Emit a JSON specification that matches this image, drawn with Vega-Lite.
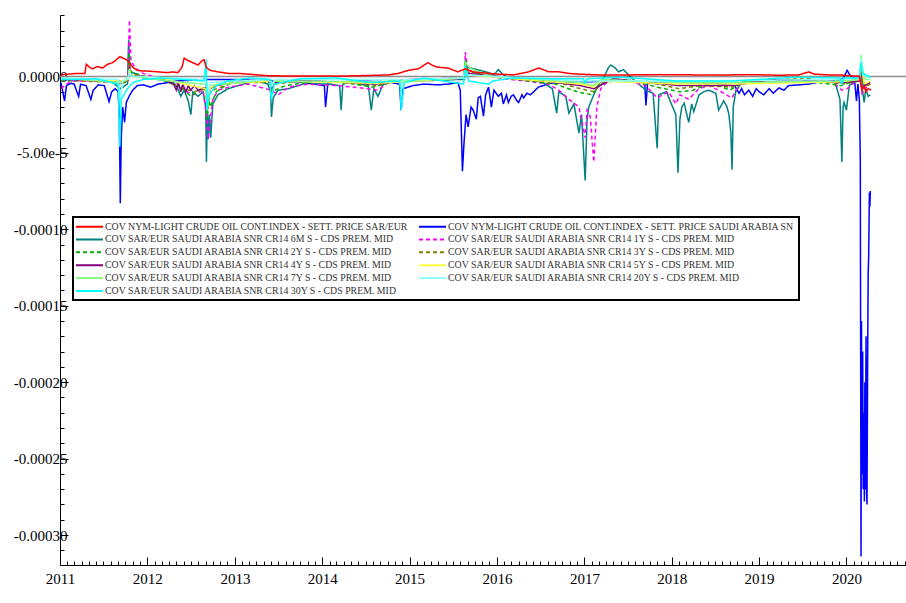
{
"$schema":"https://vega.github.io/schema/vega-lite/v6.json",
"autosize":"none",
"padding":{"left":60,"top":15,"right":0,"bottom":38},
"width":846,"height":550,
"background":"white",
"config":{"view":{"stroke":null},"axis":{"grid":false,"domainColor":"#000","tickColor":"#000","labelColor":"#000","labelFont":"Liberation Serif","labelFontSize":15,"title":null},"legend":{"strokeWidth":2}},
"layer":[
{"data":{"values":[{}]},"mark":{"type":"rule","color":"#8c8c8c","strokeWidth":1.5},"encoding":{"y":{"datum":0,"type":"quantitative"}}},
{"data":{"values":[
{"s":"b","d":"2011-01-05","v":-0.4e-5},{"s":"b","d":"2011-01-20","v":-1.6e-5},{"s":"b","d":"2011-01-28","v":-0.6e-5},{"s":"b","d":"2011-02-15","v":-0.45e-5},{"s":"b","d":"2011-03-01","v":-0.5e-5},{"s":"b","d":"2011-03-20","v":-1.3e-5},{"s":"b","d":"2011-03-28","v":-0.5e-5},{"s":"b","d":"2011-04-20","v":-0.6e-5},{"s":"b","d":"2011-05-10","v":-1.5e-5},{"s":"b","d":"2011-05-20","v":-0.9e-5},{"s":"b","d":"2011-06-10","v":-0.55e-5},{"s":"b","d":"2011-07-05","v":-0.6e-5},{"s":"b","d":"2011-07-25","v":-1.65e-5},{"s":"b","d":"2011-08-05","v":-1.0e-5},{"s":"b","d":"2011-08-20","v":-0.8e-5},{"s":"b","d":"2011-09-01","v":-1.0e-5},{"s":"b","d":"2011-09-06","v":-2.7e-5},{"s":"b","d":"2011-09-10","v":-8.3e-5},{"s":"b","d":"2011-09-14","v":-4.0e-5},{"s":"b","d":"2011-09-20","v":-2.0e-5},{"s":"b","d":"2011-09-28","v":-3.0e-5},{"s":"b","d":"2011-10-05","v":-1.7e-5},{"s":"b","d":"2011-10-20","v":-1.2e-5},{"s":"b","d":"2011-11-01","v":-0.9e-5},{"s":"b","d":"2011-11-20","v":-0.6e-5},{"s":"b","d":"2011-12-15","v":-0.55e-5},{"s":"b","d":"2012-01-15","v":-0.7e-5},{"s":"b","d":"2012-02-15","v":-0.5e-5},{"s":"b","d":"2012-03-27","v":-0.4e-5},{"s":"b","d":"2012-05-01","v":-0.3e-5},{"s":"b","d":"2012-07-01","v":-0.25e-5},{"s":"b","d":"2012-09-01","v":-0.2e-5},{"s":"b","d":"2013-01-01","v":-0.2e-5},{"s":"b","d":"2013-06-01","v":-0.3e-5},{"s":"b","d":"2013-09-22","v":-0.35e-5},{"s":"b","d":"2014-01-10","v":-0.6e-5},{"s":"b","d":"2014-01-15","v":-2.0e-5},{"s":"b","d":"2014-01-25","v":-0.4e-5},{"s":"b","d":"2014-06-01","v":-0.3e-5},{"s":"b","d":"2014-10-01","v":-0.35e-5},{"s":"b","d":"2014-11-20","v":-0.5e-5},{"s":"b","d":"2014-11-27","v":-2.2e-5},{"s":"b","d":"2014-12-05","v":-0.8e-5},{"s":"b","d":"2015-01-15","v":-0.6e-5},{"s":"b","d":"2015-03-01","v":-0.5e-5},{"s":"b","d":"2015-05-01","v":-0.55e-5},{"s":"b","d":"2015-06-12","v":-0.5e-5},{"s":"b","d":"2015-07-22","v":-0.4e-5},{"s":"b","d":"2015-08-01","v":-0.9e-5},{"s":"b","d":"2015-08-10","v":-6.2e-5},{"s":"b","d":"2015-08-16","v":-4.5e-5},{"s":"b","d":"2015-08-25","v":-2.5e-5},{"s":"b","d":"2015-09-03","v":-3.3e-5},{"s":"b","d":"2015-09-15","v":-2.0e-5},{"s":"b","d":"2015-09-24","v":-2.2e-5},{"s":"b","d":"2015-10-07","v":-2.8e-5},{"s":"b","d":"2015-10-15","v":-1.4e-5},{"s":"b","d":"2015-10-24","v":-1.3e-5},{"s":"b","d":"2015-11-06","v":-2.6e-5},{"s":"b","d":"2015-11-15","v":-1.2e-5},{"s":"b","d":"2015-11-27","v":-0.7e-5},{"s":"b","d":"2015-12-09","v":-2.0e-5},{"s":"b","d":"2015-12-20","v":-0.9e-5},{"s":"b","d":"2016-01-07","v":-1.3e-5},{"s":"b","d":"2016-01-20","v":-1.1e-5},{"s":"b","d":"2016-01-28","v":-1.8e-5},{"s":"b","d":"2016-02-10","v":-1.2e-5},{"s":"b","d":"2016-02-18","v":-1.7e-5},{"s":"b","d":"2016-03-01","v":-1.3e-5},{"s":"b","d":"2016-03-10","v":-1.2e-5},{"s":"b","d":"2016-03-25","v":-1.6e-5},{"s":"b","d":"2016-04-01","v":-1.7e-5},{"s":"b","d":"2016-04-15","v":-1.2e-5},{"s":"b","d":"2016-04-22","v":-1.4e-5},{"s":"b","d":"2016-05-05","v":-1.1e-5},{"s":"b","d":"2016-05-20","v":-1.2e-5},{"s":"b","d":"2016-06-03","v":-1.0e-5},{"s":"b","d":"2016-06-22","v":-0.7e-5},{"s":"b","d":"2016-07-13","v":-0.6e-5},{"s":"b","d":"2016-08-04","v":-0.45e-5},{"s":"b","d":"2016-10-01","v":-0.4e-5},{"s":"b","d":"2017-01-01","v":-0.35e-5},{"s":"b","d":"2017-06-01","v":-0.3e-5},{"s":"b","d":"2017-09-10","v":-0.4e-5},{"s":"b","d":"2017-09-15","v":-1.9e-5},{"s":"b","d":"2017-09-22","v":-0.4e-5},{"s":"b","d":"2017-11-01","v":-0.35e-5},{"s":"b","d":"2018-03-01","v":-0.4e-5},{"s":"b","d":"2018-07-01","v":-0.45e-5},{"s":"b","d":"2018-09-20","v":-0.6e-5},{"s":"b","d":"2018-10-09","v":-1.1e-5},{"s":"b","d":"2018-10-20","v":-0.8e-5},{"s":"b","d":"2018-11-01","v":-1.2e-5},{"s":"b","d":"2018-11-19","v":-0.9e-5},{"s":"b","d":"2018-12-05","v":-1.3e-5},{"s":"b","d":"2018-12-20","v":-0.8e-5},{"s":"b","d":"2019-01-01","v":-1.0e-5},{"s":"b","d":"2019-01-20","v":-1.2e-5},{"s":"b","d":"2019-02-12","v":-0.8e-5},{"s":"b","d":"2019-03-01","v":-1.1e-5},{"s":"b","d":"2019-03-25","v":-0.75e-5},{"s":"b","d":"2019-04-15","v":-0.9e-5},{"s":"b","d":"2019-05-04","v":-0.6e-5},{"s":"b","d":"2019-06-16","v":-0.55e-5},{"s":"b","d":"2019-07-28","v":-0.5e-5},{"s":"b","d":"2019-09-09","v":-0.36e-5},{"s":"b","d":"2019-10-19","v":-0.3e-5},{"s":"b","d":"2019-12-01","v":-0.25e-5},{"s":"b","d":"2019-12-20","v":-0.1e-5},{"s":"b","d":"2020-01-04","v":0.4e-5},{"s":"b","d":"2020-01-15","v":0.1e-5},{"s":"b","d":"2020-02-03","v":-0.1e-5},{"s":"b","d":"2020-02-12","v":-1.6e-5},{"s":"b","d":"2020-02-18","v":-0.5e-5},{"s":"b","d":"2020-02-24","v":-1.5e-5},{"s":"b","d":"2020-02-28","v":-5.5e-5},{"s":"b","d":"2020-03-02","v":-31.4e-5},{"s":"b","d":"2020-03-04","v":-16.0e-5},{"s":"b","d":"2020-03-06","v":-26.0e-5},{"s":"b","d":"2020-03-09","v":-18.0e-5},{"s":"b","d":"2020-03-11","v":-27.0e-5},{"s":"b","d":"2020-03-13","v":-22.0e-5},{"s":"b","d":"2020-03-16","v":-27.8e-5},{"s":"b","d":"2020-03-18","v":-20.0e-5},{"s":"b","d":"2020-03-20","v":-27.0e-5},{"s":"b","d":"2020-03-23","v":-17.0e-5},{"s":"b","d":"2020-03-25","v":-27.2e-5},{"s":"b","d":"2020-03-27","v":-28.0e-5},{"s":"b","d":"2020-03-30","v":-17.7e-5},{"s":"b","d":"2020-04-01","v":-12.8e-5},{"s":"b","d":"2020-04-03","v":-11.8e-5},{"s":"b","d":"2020-04-06","v":-7.6e-5},{"s":"b","d":"2020-04-08","v":-8.5e-5},{"s":"b","d":"2020-04-10","v":-7.5e-5},
{"s":"t","d":"2011-01-05","v":-0.2e-5},{"s":"t","d":"2011-04-01","v":-0.2e-5},{"s":"t","d":"2011-08-01","v":-0.3e-5},{"s":"t","d":"2011-09-10","v":-0.8e-5},{"s":"t","d":"2011-10-10","v":-0.5e-5},{"s":"t","d":"2011-10-15","v":2.4e-5},{"s":"t","d":"2011-10-20","v":0.3e-5},{"s":"t","d":"2011-11-10","v":0.2e-5},{"s":"t","d":"2011-12-15","v":-0.1e-5},{"s":"t","d":"2012-02-15","v":-0.2e-5},{"s":"t","d":"2012-04-16","v":-0.3e-5},{"s":"t","d":"2012-05-07","v":-0.8e-5},{"s":"t","d":"2012-05-20","v":-1.3e-5},{"s":"t","d":"2012-06-03","v":-0.9e-5},{"s":"t","d":"2012-06-20","v":-1.6e-5},{"s":"t","d":"2012-07-01","v":-2.5e-5},{"s":"t","d":"2012-07-09","v":-1.0e-5},{"s":"t","d":"2012-07-31","v":-1.3e-5},{"s":"t","d":"2012-08-21","v":-1.0e-5},{"s":"t","d":"2012-09-01","v":-2.0e-5},{"s":"t","d":"2012-09-04","v":-5.6e-5},{"s":"t","d":"2012-09-08","v":-2.5e-5},{"s":"t","d":"2012-09-12","v":-4.1e-5},{"s":"t","d":"2012-09-16","v":-2.5e-5},{"s":"t","d":"2012-09-22","v":-4.0e-5},{"s":"t","d":"2012-10-01","v":-1.8e-5},{"s":"t","d":"2012-10-22","v":-1.2e-5},{"s":"t","d":"2012-12-04","v":-0.8e-5},{"s":"t","d":"2013-01-15","v":-0.6e-5},{"s":"t","d":"2013-02-27","v":-0.4e-5},{"s":"t","d":"2013-04-07","v":-0.3e-5},{"s":"t","d":"2013-05-19","v":-0.5e-5},{"s":"t","d":"2013-05-30","v":-1.0e-5},{"s":"t","d":"2013-06-03","v":-2.65e-5},{"s":"t","d":"2013-06-10","v":-1.4e-5},{"s":"t","d":"2013-07-01","v":-0.9e-5},{"s":"t","d":"2013-08-13","v":-0.8e-5},{"s":"t","d":"2013-09-22","v":-0.6e-5},{"s":"t","d":"2013-11-04","v":-0.4e-5},{"s":"t","d":"2013-12-16","v":-0.5e-5},{"s":"t","d":"2014-01-27","v":-0.5e-5},{"s":"t","d":"2014-03-15","v":-0.6e-5},{"s":"t","d":"2014-03-21","v":-2.2e-5},{"s":"t","d":"2014-03-28","v":-0.5e-5},{"s":"t","d":"2014-05-01","v":-0.4e-5},{"s":"t","d":"2014-07-13","v":-0.6e-5},{"s":"t","d":"2014-07-25","v":-2.2e-5},{"s":"t","d":"2014-08-05","v":-0.8e-5},{"s":"t","d":"2014-08-22","v":-1.3e-5},{"s":"t","d":"2014-09-10","v":-0.6e-5},{"s":"t","d":"2014-10-04","v":-0.3e-5},{"s":"t","d":"2015-01-01","v":-0.3e-5},{"s":"t","d":"2015-05-01","v":-0.25e-5},{"s":"t","d":"2015-07-22","v":-0.2e-5},{"s":"t","d":"2015-08-18","v":-0.2e-5},{"s":"t","d":"2015-08-22","v":0.9e-5},{"s":"t","d":"2015-09-03","v":0.6e-5},{"s":"t","d":"2015-09-24","v":0.5e-5},{"s":"t","d":"2015-10-24","v":0.4e-5},{"s":"t","d":"2015-11-27","v":0.25e-5},{"s":"t","d":"2015-12-20","v":0.1e-5},{"s":"t","d":"2016-01-07","v":0.45e-5},{"s":"t","d":"2016-01-28","v":0.1e-5},{"s":"t","d":"2016-02-18","v":-0.05e-5},{"s":"t","d":"2016-05-01","v":-0.2e-5},{"s":"t","d":"2016-07-01","v":-0.3e-5},{"s":"t","d":"2016-08-20","v":-0.8e-5},{"s":"t","d":"2016-09-07","v":-2.4e-5},{"s":"t","d":"2016-09-16","v":-1.0e-5},{"s":"t","d":"2016-10-15","v":-1.3e-5},{"s":"t","d":"2016-10-28","v":-2.4e-5},{"s":"t","d":"2016-11-18","v":-1.8e-5},{"s":"t","d":"2016-12-09","v":-3.7e-5},{"s":"t","d":"2016-12-20","v":-2.5e-5},{"s":"t","d":"2017-01-04","v":-6.8e-5},{"s":"t","d":"2017-01-12","v":-2.8e-5},{"s":"t","d":"2017-01-19","v":-2.0e-5},{"s":"t","d":"2017-02-09","v":-1.2e-5},{"s":"t","d":"2017-03-01","v":-0.5e-5},{"s":"t","d":"2017-03-22","v":-0.1e-5},{"s":"t","d":"2017-04-12","v":0.6e-5},{"s":"t","d":"2017-04-21","v":0.75e-5},{"s":"t","d":"2017-05-10","v":0.55e-5},{"s":"t","d":"2017-05-24","v":0.3e-5},{"s":"t","d":"2017-06-13","v":0.45e-5},{"s":"t","d":"2017-07-04","v":0.1e-5},{"s":"t","d":"2017-08-01","v":-0.3e-5},{"s":"t","d":"2017-09-15","v":-0.9e-5},{"s":"t","d":"2017-10-15","v":-1.1e-5},{"s":"t","d":"2017-11-01","v":-4.7e-5},{"s":"t","d":"2017-11-08","v":-1.2e-5},{"s":"t","d":"2017-12-10","v":-1.0e-5},{"s":"t","d":"2017-12-25","v":-1.6e-5},{"s":"t","d":"2018-01-18","v":-2.5e-5},{"s":"t","d":"2018-01-27","v":-6.3e-5},{"s":"t","d":"2018-02-04","v":-2.8e-5},{"s":"t","d":"2018-02-12","v":-2.0e-5},{"s":"t","d":"2018-02-22","v":-1.75e-5},{"s":"t","d":"2018-03-05","v":-2.5e-5},{"s":"t","d":"2018-03-13","v":-3.0e-5},{"s":"t","d":"2018-03-25","v":-1.8e-5},{"s":"t","d":"2018-04-03","v":-2.3e-5},{"s":"t","d":"2018-04-25","v":-1.2e-5},{"s":"t","d":"2018-05-15","v":-1.0e-5},{"s":"t","d":"2018-06-04","v":-0.9e-5},{"s":"t","d":"2018-07-04","v":-1.1e-5},{"s":"t","d":"2018-07-16","v":-2.2e-5},{"s":"t","d":"2018-08-06","v":-1.6e-5},{"s":"t","d":"2018-08-20","v":-2.0e-5},{"s":"t","d":"2018-08-28","v":-2.5e-5},{"s":"t","d":"2018-09-05","v":-3.7e-5},{"s":"t","d":"2018-09-10","v":-6.1e-5},{"s":"t","d":"2018-09-15","v":-2.0e-5},{"s":"t","d":"2018-09-25","v":-1.0e-5},{"s":"t","d":"2018-10-20","v":-0.4e-5},{"s":"t","d":"2019-01-01","v":-0.3e-5},{"s":"t","d":"2019-05-01","v":-0.25e-5},{"s":"t","d":"2019-09-01","v":-0.3e-5},{"s":"t","d":"2019-11-15","v":-0.4e-5},{"s":"t","d":"2019-12-05","v":-1.5e-5},{"s":"t","d":"2019-12-13","v":-5.6e-5},{"s":"t","d":"2019-12-18","v":-2.0e-5},{"s":"t","d":"2019-12-22","v":-1.7e-5},{"s":"t","d":"2020-01-01","v":-2.2e-5},{"s":"t","d":"2020-01-13","v":-0.6e-5},{"s":"t","d":"2020-02-03","v":-0.3e-5},{"s":"t","d":"2020-02-24","v":-0.2e-5},{"s":"t","d":"2020-03-02","v":0.8e-5},{"s":"t","d":"2020-03-09","v":-1.0e-5},{"s":"t","d":"2020-03-15","v":-1.7e-5},{"s":"t","d":"2020-03-22","v":-0.8e-5},{"s":"t","d":"2020-04-01","v":-1.3e-5},{"s":"t","d":"2020-04-10","v":-1.2e-5},
{"s":"m","d":"2011-01-05","v":-0.8e-5},{"s":"m","d":"2011-02-15","v":-0.3e-5},{"s":"m","d":"2011-05-01","v":-0.3e-5},{"s":"m","d":"2011-08-01","v":-0.35e-5},{"s":"m","d":"2011-09-10","v":-0.5e-5},{"s":"m","d":"2011-10-12","v":-0.3e-5},{"s":"m","d":"2011-10-18","v":3.7e-5},{"s":"m","d":"2011-10-25","v":1.0e-5},{"s":"m","d":"2011-11-15","v":0.5e-5},{"s":"m","d":"2011-12-15","v":0.2e-5},{"s":"m","d":"2012-02-15","v":-0.1e-5},{"s":"m","d":"2012-05-01","v":-0.4e-5},{"s":"m","d":"2012-06-03","v":-0.9e-5},{"s":"m","d":"2012-07-09","v":-1.2e-5},{"s":"m","d":"2012-08-21","v":-0.9e-5},{"s":"m","d":"2012-09-04","v":-2.5e-5},{"s":"m","d":"2012-09-12","v":-4.1e-5},{"s":"m","d":"2012-09-19","v":-3.0e-5},{"s":"m","d":"2012-10-01","v":-1.5e-5},{"s":"m","d":"2012-10-22","v":-0.9e-5},{"s":"m","d":"2012-12-04","v":-0.7e-5},{"s":"m","d":"2013-02-27","v":-0.5e-5},{"s":"m","d":"2013-06-01","v":-0.9e-5},{"s":"m","d":"2013-07-01","v":-1.2e-5},{"s":"m","d":"2013-08-13","v":-0.7e-5},{"s":"m","d":"2013-11-04","v":-0.5e-5},{"s":"m","d":"2014-03-07","v":-0.6e-5},{"s":"m","d":"2014-07-13","v":-0.8e-5},{"s":"m","d":"2014-08-22","v":-0.9e-5},{"s":"m","d":"2014-10-04","v":-0.4e-5},{"s":"m","d":"2015-02-01","v":-0.2e-5},{"s":"m","d":"2015-07-22","v":-0.15e-5},{"s":"m","d":"2015-08-18","v":-0.1e-5},{"s":"m","d":"2015-08-22","v":1.6e-5},{"s":"m","d":"2015-09-01","v":0.5e-5},{"s":"m","d":"2015-10-01","v":0.2e-5},{"s":"m","d":"2015-12-01","v":0.02e-5},{"s":"m","d":"2016-02-01","v":-0.15e-5},{"s":"m","d":"2016-05-01","v":-0.3e-5},{"s":"m","d":"2016-08-04","v":-0.5e-5},{"s":"m","d":"2016-09-16","v":-0.9e-5},{"s":"m","d":"2016-10-28","v":-1.5e-5},{"s":"m","d":"2016-12-09","v":-2.0e-5},{"s":"m","d":"2017-01-04","v":-4.0e-5},{"s":"m","d":"2017-01-12","v":-2.2e-5},{"s":"m","d":"2017-01-25","v":-2.6e-5},{"s":"m","d":"2017-02-09","v":-5.6e-5},{"s":"m","d":"2017-02-22","v":-2.0e-5},{"s":"m","d":"2017-03-10","v":-0.8e-5},{"s":"m","d":"2017-04-15","v":-0.2e-5},{"s":"m","d":"2017-07-04","v":-0.3e-5},{"s":"m","d":"2017-09-15","v":-0.6e-5},{"s":"m","d":"2017-11-01","v":-1.4e-5},{"s":"m","d":"2017-12-19","v":-1.0e-5},{"s":"m","d":"2018-01-18","v":-1.8e-5},{"s":"m","d":"2018-02-04","v":-1.2e-5},{"s":"m","d":"2018-03-13","v":-1.5e-5},{"s":"m","d":"2018-04-25","v":-0.8e-5},{"s":"m","d":"2018-06-04","v":-0.6e-5},{"s":"m","d":"2018-07-16","v":-0.9e-5},{"s":"m","d":"2018-08-28","v":-1.3e-5},{"s":"m","d":"2018-09-10","v":-1.4e-5},{"s":"m","d":"2018-10-09","v":-0.5e-5},{"s":"m","d":"2019-01-01","v":-0.3e-5},{"s":"m","d":"2019-06-16","v":-0.25e-5},{"s":"m","d":"2019-11-01","v":-0.3e-5},{"s":"m","d":"2019-12-13","v":-0.9e-5},{"s":"m","d":"2020-01-04","v":-0.8e-5},{"s":"m","d":"2020-02-03","v":-0.4e-5},{"s":"m","d":"2020-02-28","v":0.3e-5},{"s":"m","d":"2020-03-06","v":-1.1e-5},{"s":"m","d":"2020-03-20","v":-0.7e-5},{"s":"m","d":"2020-04-10","v":-0.8e-5},
{"s":"g2","d":"2011-01-05","v":-0.3e-5},{"s":"g2","d":"2011-06-01","v":-0.2e-5},{"s":"g2","d":"2011-09-10","v":-0.5e-5},{"s":"g2","d":"2011-10-12","v":-0.3e-5},{"s":"g2","d":"2011-10-18","v":1.5e-5},{"s":"g2","d":"2011-10-24","v":0.3e-5},{"s":"g2","d":"2011-12-15","v":0.02e-5},{"s":"g2","d":"2012-03-01","v":-0.2e-5},{"s":"g2","d":"2012-05-15","v":-0.7e-5},{"s":"g2","d":"2012-06-10","v":-1.0e-5},{"s":"g2","d":"2012-07-01","v":-1.3e-5},{"s":"g2","d":"2012-08-15","v":-0.8e-5},{"s":"g2","d":"2012-09-02","v":-0.9e-5},{"s":"g2","d":"2012-09-08","v":-2.8e-5},{"s":"g2","d":"2012-09-14","v":-1.4e-5},{"s":"g2","d":"2012-09-20","v":-2.0e-5},{"s":"g2","d":"2012-10-15","v":-1.0e-5},{"s":"g2","d":"2012-12-01","v":-0.5e-5},{"s":"g2","d":"2013-03-01","v":-0.3e-5},{"s":"g2","d":"2013-05-28","v":-0.4e-5},{"s":"g2","d":"2013-06-05","v":-1.0e-5},{"s":"g2","d":"2013-08-01","v":-0.6e-5},{"s":"g2","d":"2013-12-01","v":-0.3e-5},{"s":"g2","d":"2014-04-01","v":-0.4e-5},{"s":"g2","d":"2014-08-01","v":-0.7e-5},{"s":"g2","d":"2014-11-01","v":-0.3e-5},{"s":"g2","d":"2015-06-01","v":-0.15e-5},{"s":"g2","d":"2015-08-15","v":-0.1e-5},{"s":"g2","d":"2015-08-22","v":1.1e-5},{"s":"g2","d":"2015-09-01","v":0.4e-5},{"s":"g2","d":"2015-09-20","v":0.3e-5},{"s":"g2","d":"2015-12-01","v":0.02e-5},{"s":"g2","d":"2016-04-01","v":-0.2e-5},{"s":"g2","d":"2016-09-01","v":-0.5e-5},{"s":"g2","d":"2016-12-01","v":-1.0e-5},{"s":"g2","d":"2017-02-01","v":-1.2e-5},{"s":"g2","d":"2017-03-15","v":-0.4e-5},{"s":"g2","d":"2017-07-01","v":-0.2e-5},{"s":"g2","d":"2017-11-01","v":-0.7e-5},{"s":"g2","d":"2018-02-01","v":-1.0e-5},{"s":"g2","d":"2018-04-01","v":-0.9e-5},{"s":"g2","d":"2018-06-15","v":-0.4e-5},{"s":"g2","d":"2018-09-01","v":-0.9e-5},{"s":"g2","d":"2018-11-01","v":-0.3e-5},{"s":"g2","d":"2019-06-01","v":-0.2e-5},{"s":"g2","d":"2019-12-10","v":-0.6e-5},{"s":"g2","d":"2020-01-15","v":-0.4e-5},{"s":"g2","d":"2020-02-20","v":-0.3e-5},{"s":"g2","d":"2020-02-28","v":0.5e-5},{"s":"g2","d":"2020-03-10","v":-0.5e-5},{"s":"g2","d":"2020-04-10","v":-0.6e-5},
{"s":"o","d":"2011-01-05","v":-0.25e-5},{"s":"o","d":"2011-09-10","v":-0.4e-5},{"s":"o","d":"2011-10-12","v":-0.3e-5},{"s":"o","d":"2011-10-18","v":0.8e-5},{"s":"o","d":"2011-10-24","v":0.1e-5},{"s":"o","d":"2011-11-15","v":0.1e-5},{"s":"o","d":"2012-03-01","v":-0.15e-5},{"s":"o","d":"2012-06-01","v":-0.8e-5},{"s":"o","d":"2012-07-15","v":-1.0e-5},{"s":"o","d":"2012-09-02","v":-0.8e-5},{"s":"o","d":"2012-09-10","v":-2.2e-5},{"s":"o","d":"2012-09-18","v":-1.0e-5},{"s":"o","d":"2012-10-15","v":-0.8e-5},{"s":"o","d":"2013-01-01","v":-0.4e-5},{"s":"o","d":"2013-05-28","v":-0.4e-5},{"s":"o","d":"2013-06-05","v":-0.8e-5},{"s":"o","d":"2013-06-15","v":-0.5e-5},{"s":"o","d":"2013-10-01","v":-0.3e-5},{"s":"o","d":"2014-05-01","v":-0.4e-5},{"s":"o","d":"2014-08-10","v":-0.6e-5},{"s":"o","d":"2014-12-01","v":-0.25e-5},{"s":"o","d":"2015-08-15","v":-0.1e-5},{"s":"o","d":"2015-08-22","v":0.8e-5},{"s":"o","d":"2015-09-01","v":0.3e-5},{"s":"o","d":"2015-10-15","v":0.2e-5},{"s":"o","d":"2016-03-01","v":-0.15e-5},{"s":"o","d":"2016-09-15","v":-0.4e-5},{"s":"o","d":"2016-12-15","v":-0.8e-5},{"s":"o","d":"2017-02-10","v":-1.0e-5},{"s":"o","d":"2017-04-01","v":-0.2e-5},{"s":"o","d":"2017-11-01","v":-0.5e-5},{"s":"o","d":"2018-02-01","v":-0.8e-5},{"s":"o","d":"2018-05-01","v":-0.6e-5},{"s":"o","d":"2018-09-10","v":-0.7e-5},{"s":"o","d":"2018-12-01","v":-0.25e-5},{"s":"o","d":"2019-08-01","v":-0.15e-5},{"s":"o","d":"2019-12-10","v":-0.5e-5},{"s":"o","d":"2020-02-24","v":-0.3e-5},{"s":"o","d":"2020-03-02","v":0.6e-5},{"s":"o","d":"2020-03-15","v":-0.7e-5},{"s":"o","d":"2020-04-10","v":-0.5e-5},
{"s":"p","d":"2011-01-05","v":-0.2e-5},{"s":"p","d":"2011-09-10","v":-0.3e-5},{"s":"p","d":"2011-10-12","v":-0.25e-5},{"s":"p","d":"2011-10-18","v":0.6e-5},{"s":"p","d":"2011-10-24","v":0.05e-5},{"s":"p","d":"2012-03-01","v":-0.1e-5},{"s":"p","d":"2012-04-20","v":-0.5e-5},{"s":"p","d":"2012-05-01","v":-0.9e-5},{"s":"p","d":"2012-05-10","v":-0.4e-5},{"s":"p","d":"2012-05-20","v":-1.0e-5},{"s":"p","d":"2012-05-28","v":-0.5e-5},{"s":"p","d":"2012-06-10","v":-1.0e-5},{"s":"p","d":"2012-06-20","v":-0.6e-5},{"s":"p","d":"2012-07-01","v":-0.9e-5},{"s":"p","d":"2012-07-15","v":-0.6e-5},{"s":"p","d":"2012-07-31","v":-0.9e-5},{"s":"p","d":"2012-09-02","v":-0.7e-5},{"s":"p","d":"2012-09-10","v":-1.8e-5},{"s":"p","d":"2012-09-18","v":-0.8e-5},{"s":"p","d":"2012-10-15","v":-0.6e-5},{"s":"p","d":"2013-02-01","v":-0.3e-5},{"s":"p","d":"2013-05-28","v":-0.3e-5},{"s":"p","d":"2013-06-05","v":-0.7e-5},{"s":"p","d":"2013-06-15","v":-0.4e-5},{"s":"p","d":"2013-10-01","v":-0.25e-5},{"s":"p","d":"2014-08-10","v":-0.5e-5},{"s":"p","d":"2015-01-01","v":-0.2e-5},{"s":"p","d":"2015-08-15","v":-0.1e-5},{"s":"p","d":"2015-08-22","v":0.6e-5},{"s":"p","d":"2015-09-01","v":0.2e-5},{"s":"p","d":"2015-11-01","v":0.1e-5},{"s":"p","d":"2016-05-01","v":-0.15e-5},{"s":"p","d":"2016-12-15","v":-0.6e-5},{"s":"p","d":"2017-02-10","v":-0.8e-5},{"s":"p","d":"2017-05-01","v":-0.15e-5},{"s":"p","d":"2018-02-01","v":-0.6e-5},{"s":"p","d":"2018-09-10","v":-0.6e-5},{"s":"p","d":"2019-03-01","v":-0.2e-5},{"s":"p","d":"2019-12-10","v":-0.4e-5},{"s":"p","d":"2020-02-24","v":-0.3e-5},{"s":"p","d":"2020-03-02","v":0.7e-5},{"s":"p","d":"2020-03-15","v":-0.6e-5},{"s":"p","d":"2020-04-10","v":-0.4e-5},
{"s":"y","d":"2011-01-05","v":-0.15e-5},{"s":"y","d":"2011-09-10","v":-0.3e-5},{"s":"y","d":"2011-10-12","v":-0.2e-5},{"s":"y","d":"2011-10-18","v":0.5e-5},{"s":"y","d":"2011-10-24","v":0.02e-5},{"s":"y","d":"2012-03-01","v":-0.1e-5},{"s":"y","d":"2012-06-01","v":-0.5e-5},{"s":"y","d":"2012-09-01","v":-0.8e-5},{"s":"y","d":"2012-09-06","v":-1.5e-5},{"s":"y","d":"2012-09-10","v":-2.0e-5},{"s":"y","d":"2012-09-18","v":-0.8e-5},{"s":"y","d":"2012-10-15","v":-0.5e-5},{"s":"y","d":"2013-05-28","v":-0.3e-5},{"s":"y","d":"2013-06-05","v":-0.6e-5},{"s":"y","d":"2013-06-15","v":-0.3e-5},{"s":"y","d":"2014-08-10","v":-0.45e-5},{"s":"y","d":"2015-08-15","v":-0.1e-5},{"s":"y","d":"2015-08-22","v":0.5e-5},{"s":"y","d":"2015-09-01","v":0.1e-5},{"s":"y","d":"2016-12-15","v":-0.5e-5},{"s":"y","d":"2017-02-10","v":-0.7e-5},{"s":"y","d":"2017-03-10","v":-0.3e-5},{"s":"y","d":"2018-02-01","v":-0.5e-5},{"s":"y","d":"2018-09-10","v":-0.5e-5},{"s":"y","d":"2019-12-10","v":-0.35e-5},{"s":"y","d":"2020-02-24","v":-0.2e-5},{"s":"y","d":"2020-03-02","v":0.9e-5},{"s":"y","d":"2020-03-15","v":-0.5e-5},{"s":"y","d":"2020-04-10","v":-0.3e-5},
{"s":"lg","d":"2011-01-05","v":-0.1e-5},{"s":"lg","d":"2011-09-10","v":-0.4e-5},{"s":"lg","d":"2011-10-12","v":-0.2e-5},{"s":"lg","d":"2011-10-18","v":0.4e-5},{"s":"lg","d":"2011-10-24","v":0.02e-5},{"s":"lg","d":"2012-06-01","v":-0.4e-5},{"s":"lg","d":"2012-09-02","v":-0.5e-5},{"s":"lg","d":"2012-09-10","v":-1.5e-5},{"s":"lg","d":"2012-09-18","v":-0.6e-5},{"s":"lg","d":"2013-05-28","v":-0.2e-5},{"s":"lg","d":"2013-06-05","v":-0.5e-5},{"s":"lg","d":"2013-06-15","v":-0.3e-5},{"s":"lg","d":"2014-08-10","v":-0.35e-5},{"s":"lg","d":"2015-08-15","v":-0.1e-5},{"s":"lg","d":"2015-08-22","v":0.9e-5},{"s":"lg","d":"2015-09-15","v":0.5e-5},{"s":"lg","d":"2015-10-20","v":0.3e-5},{"s":"lg","d":"2015-12-01","v":0.02e-5},{"s":"lg","d":"2016-12-15","v":-0.4e-5},{"s":"lg","d":"2017-02-10","v":-0.6e-5},{"s":"lg","d":"2017-03-10","v":-0.2e-5},{"s":"lg","d":"2018-02-01","v":-0.4e-5},{"s":"lg","d":"2018-09-10","v":-0.4e-5},{"s":"lg","d":"2019-12-10","v":-0.3e-5},{"s":"lg","d":"2020-02-24","v":-0.2e-5},{"s":"lg","d":"2020-03-02","v":1.4e-5},{"s":"lg","d":"2020-03-10","v":0.3e-5},{"s":"lg","d":"2020-03-20","v":-0.2e-5},{"s":"lg","d":"2020-04-10","v":-0.2e-5},
{"s":"lc","d":"2011-01-05","v":-0.1e-5},{"s":"lc","d":"2011-09-01","v":-0.2e-5},{"s":"lc","d":"2011-09-10","v":-1.5e-5},{"s":"lc","d":"2011-09-20","v":-0.3e-5},{"s":"lc","d":"2011-10-12","v":-0.1e-5},{"s":"lc","d":"2011-10-18","v":0.3e-5},{"s":"lc","d":"2011-10-24","v":0.02e-5},{"s":"lc","d":"2012-09-02","v":-0.2e-5},{"s":"lc","d":"2012-09-10","v":-1.2e-5},{"s":"lc","d":"2012-09-20","v":-0.4e-5},{"s":"lc","d":"2013-05-28","v":-0.2e-5},{"s":"lc","d":"2013-06-05","v":-0.6e-5},{"s":"lc","d":"2013-06-15","v":-0.2e-5},{"s":"lc","d":"2014-11-20","v":-0.2e-5},{"s":"lc","d":"2014-11-27","v":-1.0e-5},{"s":"lc","d":"2014-12-05","v":-0.2e-5},{"s":"lc","d":"2015-08-15","v":-0.1e-5},{"s":"lc","d":"2015-08-22","v":0.6e-5},{"s":"lc","d":"2015-09-01","v":0.1e-5},{"s":"lc","d":"2016-12-15","v":-0.3e-5},{"s":"lc","d":"2018-02-01","v":-0.3e-5},{"s":"lc","d":"2019-12-10","v":-0.2e-5},{"s":"lc","d":"2020-02-24","v":-0.1e-5},{"s":"lc","d":"2020-03-02","v":1.2e-5},{"s":"lc","d":"2020-03-10","v":0.1e-5},{"s":"lc","d":"2020-04-10","v":-0.1e-5},
{"s":"c","d":"2011-01-05","v":-0.2e-5},{"s":"c","d":"2011-03-01","v":-0.2e-5},{"s":"c","d":"2011-06-01","v":-0.15e-5},{"s":"c","d":"2011-09-01","v":-0.5e-5},{"s":"c","d":"2011-09-08","v":-4.6e-5},{"s":"c","d":"2011-09-14","v":-1.5e-5},{"s":"c","d":"2011-09-25","v":-1.2e-5},{"s":"c","d":"2011-10-10","v":-0.8e-5},{"s":"c","d":"2011-11-01","v":-0.4e-5},{"s":"c","d":"2011-12-15","v":-0.2e-5},{"s":"c","d":"2012-03-01","v":-0.1e-5},{"s":"c","d":"2012-06-01","v":-0.2e-5},{"s":"c","d":"2012-08-25","v":-0.3e-5},{"s":"c","d":"2012-09-03","v":1.1e-5},{"s":"c","d":"2012-09-06","v":-2.2e-5},{"s":"c","d":"2012-09-15","v":-1.2e-5},{"s":"c","d":"2012-10-15","v":-0.6e-5},{"s":"c","d":"2012-12-01","v":-0.3e-5},{"s":"c","d":"2013-03-01","v":-0.1e-5},{"s":"c","d":"2013-05-28","v":-0.2e-5},{"s":"c","d":"2013-06-01","v":-1.5e-5},{"s":"c","d":"2013-06-15","v":-0.5e-5},{"s":"c","d":"2013-10-01","v":-0.15e-5},{"s":"c","d":"2014-03-01","v":-0.1e-5},{"s":"c","d":"2014-07-25","v":-0.4e-5},{"s":"c","d":"2014-11-22","v":-0.3e-5},{"s":"c","d":"2014-11-27","v":-2.2e-5},{"s":"c","d":"2014-12-10","v":-0.4e-5},{"s":"c","d":"2015-03-01","v":-0.1e-5},{"s":"c","d":"2015-08-15","v":-0.5e-5},{"s":"c","d":"2015-08-22","v":0.7e-5},{"s":"c","d":"2015-09-05","v":-0.3e-5},{"s":"c","d":"2015-11-27","v":-0.5e-5},{"s":"c","d":"2015-12-15","v":-0.3e-5},{"s":"c","d":"2016-03-01","v":-0.1e-5},{"s":"c","d":"2016-09-01","v":-0.15e-5},{"s":"c","d":"2016-12-28","v":-0.15e-5},{"s":"c","d":"2017-01-04","v":-0.4e-5},{"s":"c","d":"2017-01-12","v":-0.15e-5},{"s":"c","d":"2017-06-01","v":-0.05e-5},{"s":"c","d":"2018-01-27","v":-0.3e-5},{"s":"c","d":"2018-09-10","v":-0.3e-5},{"s":"c","d":"2019-06-01","v":-0.05e-5},{"s":"c","d":"2019-12-05","v":-0.1e-5},{"s":"c","d":"2019-12-13","v":-0.5e-5},{"s":"c","d":"2019-12-20","v":-0.1e-5},{"s":"c","d":"2020-01-15","v":-0.1e-5},{"s":"c","d":"2020-02-24","v":-0.1e-5},{"s":"c","d":"2020-03-02","v":0.9e-5},{"s":"c","d":"2020-03-10","v":0.2e-5},{"s":"c","d":"2020-04-10","v":-0.05e-5},
{"s":"r","d":"2011-01-05","v":0.1e-5},{"s":"r","d":"2011-02-04","v":0.15e-5},{"s":"r","d":"2011-03-15","v":0.2e-5},{"s":"r","d":"2011-04-15","v":0.2e-5},{"s":"r","d":"2011-04-21","v":0.8e-5},{"s":"r","d":"2011-05-05","v":0.6e-5},{"s":"r","d":"2011-05-16","v":0.5e-5},{"s":"r","d":"2011-06-07","v":0.65e-5},{"s":"r","d":"2011-06-28","v":0.55e-5},{"s":"r","d":"2011-07-19","v":0.8e-5},{"s":"r","d":"2011-08-09","v":0.9e-5},{"s":"r","d":"2011-08-25","v":1.1e-5},{"s":"r","d":"2011-09-08","v":1.3e-5},{"s":"r","d":"2011-09-21","v":1.2e-5},{"s":"r","d":"2011-10-05","v":1.1e-5},{"s":"r","d":"2011-10-19","v":0.9e-5},{"s":"r","d":"2011-11-01","v":0.6e-5},{"s":"r","d":"2011-11-22","v":0.4e-5},{"s":"r","d":"2011-12-13","v":0.35e-5},{"s":"r","d":"2012-01-04","v":0.35e-5},{"s":"r","d":"2012-02-15","v":0.3e-5},{"s":"r","d":"2012-03-27","v":0.25e-5},{"s":"r","d":"2012-04-16","v":0.3e-5},{"s":"r","d":"2012-05-07","v":0.25e-5},{"s":"r","d":"2012-05-25","v":0.6e-5},{"s":"r","d":"2012-06-03","v":1.2e-5},{"s":"r","d":"2012-06-18","v":1.05e-5},{"s":"r","d":"2012-07-09","v":0.9e-5},{"s":"r","d":"2012-07-31","v":0.75e-5},{"s":"r","d":"2012-08-15","v":1.0e-5},{"s":"r","d":"2012-08-25","v":1.1e-5},{"s":"r","d":"2012-09-03","v":0.6e-5},{"s":"r","d":"2012-09-19","v":0.4e-5},{"s":"r","d":"2012-10-22","v":0.3e-5},{"s":"r","d":"2012-12-04","v":0.2e-5},{"s":"r","d":"2013-01-15","v":0.2e-5},{"s":"r","d":"2013-02-27","v":0.15e-5},{"s":"r","d":"2013-04-07","v":0.1e-5},{"s":"r","d":"2013-05-19","v":0.05e-5},{"s":"r","d":"2013-08-13","v":0.03e-5},{"s":"r","d":"2013-11-04","v":0.03e-5},{"s":"r","d":"2014-03-07","v":0.02e-5},{"s":"r","d":"2014-06-01","v":0.05e-5},{"s":"r","d":"2014-08-22","v":0.08e-5},{"s":"r","d":"2014-10-04","v":0.1e-5},{"s":"r","d":"2014-11-15","v":0.2e-5},{"s":"r","d":"2014-12-27","v":0.4e-5},{"s":"r","d":"2015-02-07","v":0.5e-5},{"s":"r","d":"2015-03-19","v":0.9e-5},{"s":"r","d":"2015-04-10","v":0.7e-5},{"s":"r","d":"2015-05-01","v":0.6e-5},{"s":"r","d":"2015-06-12","v":0.55e-5},{"s":"r","d":"2015-07-22","v":0.3e-5},{"s":"r","d":"2015-08-22","v":0.5e-5},{"s":"r","d":"2015-09-24","v":0.3e-5},{"s":"r","d":"2015-11-27","v":0.2e-5},{"s":"r","d":"2016-01-07","v":0.15e-5},{"s":"r","d":"2016-03-10","v":0.1e-5},{"s":"r","d":"2016-05-13","v":0.3e-5},{"s":"r","d":"2016-06-22","v":0.55e-5},{"s":"r","d":"2016-07-13","v":0.45e-5},{"s":"r","d":"2016-08-04","v":0.3e-5},{"s":"r","d":"2016-09-16","v":0.3e-5},{"s":"r","d":"2016-10-28","v":0.2e-5},{"s":"r","d":"2016-12-09","v":0.15e-5},{"s":"r","d":"2017-03-01","v":0.1e-5},{"s":"r","d":"2017-07-04","v":0.1e-5},{"s":"r","d":"2017-11-10","v":0.12e-5},{"s":"r","d":"2018-04-25","v":0.1e-5},{"s":"r","d":"2018-08-28","v":0.1e-5},{"s":"r","d":"2018-11-19","v":0.12e-5},{"s":"r","d":"2019-03-25","v":0.08e-5},{"s":"r","d":"2019-06-16","v":0.1e-5},{"s":"r","d":"2019-07-28","v":0.3e-5},{"s":"r","d":"2019-08-20","v":0.15e-5},{"s":"r","d":"2019-10-19","v":0.1e-5},{"s":"r","d":"2019-12-01","v":0.1e-5},{"s":"r","d":"2020-01-13","v":0.05e-5},{"s":"r","d":"2020-02-24","v":0.01e-5},{"s":"r","d":"2020-03-06","v":-0.9e-5},{"s":"r","d":"2020-03-15","v":-0.6e-5},{"s":"r","d":"2020-03-22","v":-1.0e-5},{"s":"r","d":"2020-04-01","v":-0.8e-5},{"s":"r","d":"2020-04-13","v":-0.9e-5}
]},
"mark":{"type":"line","strokeWidth":1.5},
"encoding":{
"x":{"field":"d","type":"temporal","scale":{"domain":["2011-01-01","2020-09-06"]},"axis":{"tickCount":{"interval":"month","step":1},"labelExpr":"month(datum.value)==0 ? timeFormat(datum.value,'%Y') : ''","tickSize":{"condition":{"test":"month(datum.value)==0","value":-8},"value":-4},"labelPadding":14,"labelOverlap":false,"labelFlush":false}},
"y":{"field":"v","type":"quantitative","scale":{"domain":[-0.0003196,0.0000402],"nice":false,"zero":false},"axis":{"tickCount":100,"values":[-0.00031,-0.0003,-0.00029,-0.00028,-0.00027,-0.00026,-0.00025,-0.00024,-0.00023,-0.00022,-0.00021,-0.0002,-0.00019,-0.00018,-0.00017,-0.00016,-0.00015,-0.00014,-0.00013,-0.00012,-0.00011,-0.0001,-0.00009,-0.00008,-0.00007,-0.00006,-0.00005,-0.00004,-0.00003,-0.00002,-0.00001,0,0.00001,0.00002,0.00003,0.00004],"labelExpr":"round(datum.value*1e5)==0 ? '0.00000' : round(datum.value*1e5)==-5 ? '-5.00e-5' : round(datum.value*1e5)%5==0 ? '-0.000' + (-round(datum.value*1e5)) : ''","tickSize":{"condition":{"test":"round(datum.value*1e5)%5==0","value":-8},"value":-4},"labelPadding":1,"labelOverlap":false}},
"color":{"field":"s","type":"nominal","scale":{"domain":["r","t","g2","p","lg","c","b","m","o","y","lc"],"range":["#ff0000","#008080","#00b000","#800080","#80ff80","#00ffff","#0000ff","#ff00ff","#808000","#ffff40","#90ffff"]},
"legend":{"orient":"none","legendX":13,"legendY":202,"columns":2,"title":null,"symbolType":"M-3,0H3","symbolSize":81,"symbolStrokeWidth":2,"symbolOffset":7,"labelOffset":10,"labelFont":"Liberation Serif","labelFontSize":9.85,"labelColor":"#333","labelLimit":400,"rowPadding":1.9,"columnPadding":6,"padding":4,"strokeColor":"#000","fillColor":"#fff",
"labelExpr":"datum.value=='r'?'COV NYM-LIGHT CRUDE OIL CONT.INDEX - SETT. PRICE SAR/EUR':datum.value=='b'?'COV NYM-LIGHT CRUDE OIL CONT.INDEX - SETT. PRICE SAUDI ARABIA SN':datum.value=='t'?'COV SAR/EUR SAUDI ARABIA SNR CR14 6M S - CDS PREM. MID':datum.value=='m'?'COV SAR/EUR SAUDI ARABIA SNR CR14 1Y S - CDS PREM. MID':datum.value=='g2'?'COV SAR/EUR SAUDI ARABIA SNR CR14 2Y S - CDS PREM. MID':datum.value=='o'?'COV SAR/EUR SAUDI ARABIA SNR CR14 3Y S - CDS PREM. MID':datum.value=='p'?'COV SAR/EUR SAUDI ARABIA SNR CR14 4Y S - CDS PREM. MID':datum.value=='y'?'COV SAR/EUR SAUDI ARABIA SNR CR14 5Y S - CDS PREM. MID':datum.value=='lg'?'COV SAR/EUR SAUDI ARABIA SNR CR14 7Y S - CDS PREM. MID':datum.value=='lc'?'COV SAR/EUR SAUDI ARABIA SNR CR14 20Y S - CDS PREM. MID':'COV SAR/EUR SAUDI ARABIA SNR CR14 30Y S - CDS PREM. MID'"}},
"strokeDash":{"field":"s","type":"nominal","scale":{"domain":["r","t","g2","p","lg","c","b","m","o","y","lc"],"range":[[1,0],[1,0],[4,3],[1,0],[1,0],[1,0],[1,0],[4,3],[4,3],[1,0],[1,0]]}}
}}
]}
